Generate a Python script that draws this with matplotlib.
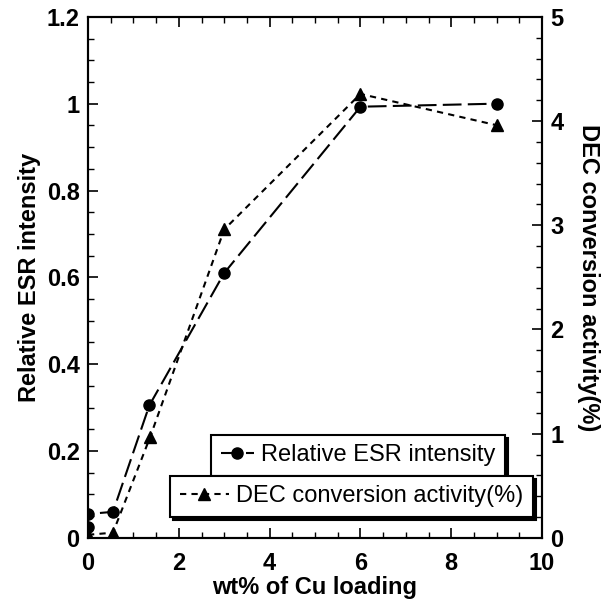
import matplotlib
matplotlib.use("Agg")
import matplotlib.pyplot as plt
from matplotlib.ticker import MultipleLocator

plt.rcParams["font.family"] = ["Liberation Sans", "DejaVu Sans"]

# data
cu_esr = [0, 0, 0.55, 1.35, 3.0, 6.0, 9.0]
esr = [0.025, 0.055, 0.06, 0.305, 0.61, 0.993, 1.0]
cu_dec = [0, 0.55, 1.37, 3.0, 6.0, 9.0]
dec = [0.03, 0.05, 0.97, 2.96, 4.26, 3.96]

fig = plt.figure(figsize=(6.07, 6.01), dpi=100)
ax = fig.add_axes([0.145, 0.105, 0.748, 0.867])
ax2 = ax.twinx()

l1, = ax.plot(cu_esr, esr, color="black", lw=1.5, dashes=(9, 3),
              marker="o", ms=8, label="Relative ESR intensity")
l2, = ax2.plot(cu_dec, dec, color="black", lw=1.5, dashes=(3, 2.5),
               marker="^", ms=8, label="DEC conversion activity(%)")

ax.set_xlim(0, 10)
ax.set_ylim(0, 1.2)
ax2.set_ylim(0, 5)
ax.xaxis.set_major_locator(MultipleLocator(2))
ax.xaxis.set_minor_locator(MultipleLocator(0.5))
ax.yaxis.set_major_locator(MultipleLocator(0.2))
ax.yaxis.set_minor_locator(MultipleLocator(0.05))
ax2.yaxis.set_major_locator(MultipleLocator(1))
ax2.yaxis.set_minor_locator(MultipleLocator(0.2))
ax.set_yticks([0, 0.2, 0.4, 0.6, 0.8, 1, 1.2])
ax.set_yticklabels(["0", "0.2", "0.4", "0.6", "0.8", "1", "1.2"])

ax.tick_params(which="both", direction="in", top=True, right=False)
ax.tick_params(which="major", length=7, width=1.2)
ax.tick_params(which="minor", length=4, width=1)
ax.tick_params(axis="x", pad=10)
ax.tick_params(axis="y", pad=6)
ax2.tick_params(which="both", direction="in")
ax2.tick_params(which="major", length=7, width=1.2, pad=6)
ax2.tick_params(which="minor", length=4, width=1)
for a in (ax, ax2):
    for s in a.spines.values():
        s.set_linewidth(1.5)
    for lab in a.get_xticklabels() + a.get_yticklabels():
        lab.set_fontweight("bold")
        lab.set_fontsize(17)

ax.set_xlabel("wt% of Cu loading", fontsize=17, fontweight="bold", labelpad=1)
ax.set_ylabel("Relative ESR intensity", fontsize=17, fontweight="bold", labelpad=4)
ax2.set_ylabel("DEC conversion activity(%)", fontsize=17, fontweight="bold",
               rotation=270, labelpad=26)

leg_kw = dict(fontsize=17, frameon=True, fancybox=False, edgecolor="black",
              framealpha=1, shadow={"color": "black", "alpha": 1},
              borderpad=0.4, handletextpad=0.3, borderaxespad=0)
leg1 = ax2.legend(handles=[l1], loc="upper right", bbox_to_anchor=(0.918, 0.198),
                  handlelength=1.4, **leg_kw)
leg1.get_frame().set_linewidth(1.5)
ax2.add_artist(leg1)
leg2 = ax2.legend(handles=[l2], loc="upper right", bbox_to_anchor=(0.98, 0.119),
                  handlelength=2.1, **leg_kw)
leg2.get_frame().set_linewidth(1.5)

fig.savefig("out.png", dpi=100)
